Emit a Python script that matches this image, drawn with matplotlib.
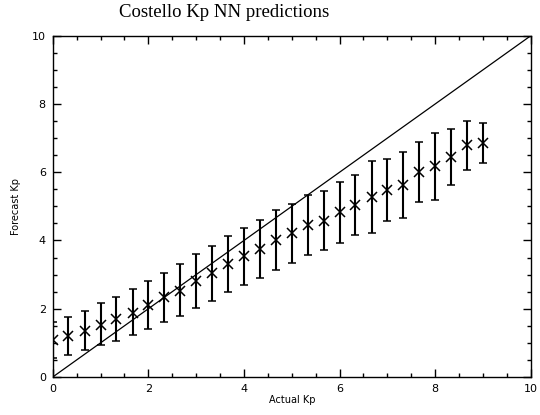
import matplotlib
matplotlib.use("Agg")
import matplotlib.pyplot as plt
from matplotlib.ticker import MultipleLocator

# Kp in thirds: 0, 0+, 1-, 1, 1+, ...
actual_kp = [0.0, 0.33, 0.67, 1.0, 1.33, 1.67, 2.0, 2.33, 2.67, 3.0,
             3.33, 3.67, 4.0, 4.33, 4.67, 5.0, 5.33, 5.67, 6.0, 6.33,
             6.67, 7.0, 7.33, 7.67, 8.0, 8.33, 8.67, 9.0]
forecast_mean = [1.08, 1.21, 1.36, 1.52, 1.70, 1.89, 2.12, 2.33, 2.53, 2.81,
                 3.05, 3.31, 3.54, 3.76, 4.02, 4.21, 4.45, 4.58, 4.83, 5.04,
                 5.28, 5.48, 5.62, 6.01, 6.17, 6.45, 6.79, 6.87]
forecast_hi = [1.60, 1.76, 1.94, 2.16, 2.34, 2.57, 2.82, 3.06, 3.32, 3.59,
               3.83, 4.14, 4.37, 4.61, 4.90, 5.08, 5.33, 5.45, 5.72, 5.93,
               6.33, 6.40, 6.59, 6.90, 7.16, 7.27, 7.50, 7.45]
forecast_lo = [0.55, 0.64, 0.78, 0.94, 1.07, 1.24, 1.42, 1.62, 1.78, 2.03,
               2.24, 2.48, 2.69, 2.90, 3.15, 3.35, 3.57, 3.72, 3.93, 4.16,
               4.23, 4.56, 4.67, 5.12, 5.19, 5.62, 6.06, 6.26]

err_lo = [m - l for m, l in zip(forecast_mean, forecast_lo)]
err_hi = [h - m for m, h in zip(forecast_mean, forecast_hi)]

fig = plt.figure(figsize=(5.4, 4.15), dpi=100)
ax = fig.add_axes([0.0976, 0.0915, 0.8854, 0.8225])

ax.plot([0, 10], [0, 10], color="black", lw=0.9)
ax.errorbar(actual_kp, forecast_mean, yerr=[err_lo, err_hi], fmt="none",
            ecolor="black", elinewidth=1.5, capsize=3, capthick=1.1)
ax.plot(actual_kp, forecast_mean, "x", color="black", ms=6.5, mew=1.1)

ax.set_xlim(0, 10)
ax.set_ylim(0, 10)
ax.xaxis.set_major_locator(MultipleLocator(2))
ax.xaxis.set_minor_locator(MultipleLocator(0.5))
ax.yaxis.set_major_locator(MultipleLocator(2))
ax.yaxis.set_minor_locator(MultipleLocator(0.5))
ax.tick_params(which="both", direction="in", top=True, right=True,
               labelsize=8, width=1, pad=5)
ax.tick_params(which="major", length=6)
ax.tick_params(which="minor", length=3)
for s in ax.spines.values():
    s.set_linewidth(1)

ax.set_xlabel("Actual Kp", fontsize=7, labelpad=1)
ax.set_ylabel("Forecast Kp", fontsize=7, labelpad=8)
fig.text(0.415, 0.97, "Costello Kp NN predictions", ha="center", va="center",
         fontsize=13.5, family="Liberation Serif")

fig.savefig("out.png", dpi=100)
